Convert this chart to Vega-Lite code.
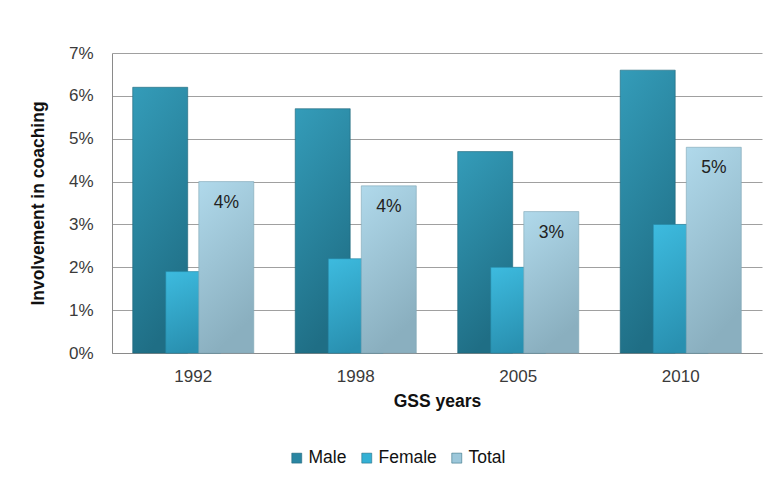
{
  "$schema": "https://vega.github.io/schema/vega-lite/v6.json",
  "width": 650,
  "height": 300,
  "autosize": "none",
  "padding": {"left": 112, "top": 53, "right": 9, "bottom": 146},
  "background": "white",
  "config": {
    "font": "Liberation Sans",
    "view": {"stroke": null},
    "axis": {"gridColor": "#a0a0a0", "domainColor": "#8a8a8a", "labelColor": "#3a3a3a", "titleColor": "#111111"}
  },
  "data": {
    "values": [
      {"year": "1992", "series": "Male", "value": 0.062},
      {"year": "1992", "series": "Female", "value": 0.019},
      {"year": "1992", "series": "Total", "value": 0.040},
      {"year": "1998", "series": "Male", "value": 0.057},
      {"year": "1998", "series": "Female", "value": 0.022},
      {"year": "1998", "series": "Total", "value": 0.039},
      {"year": "2005", "series": "Male", "value": 0.047},
      {"year": "2005", "series": "Female", "value": 0.020},
      {"year": "2005", "series": "Total", "value": 0.033},
      {"year": "2010", "series": "Male", "value": 0.066},
      {"year": "2010", "series": "Female", "value": 0.030},
      {"year": "2010", "series": "Total", "value": 0.048}
    ]
  },
  "encoding": {
    "x": {
      "field": "year", "type": "nominal",
      "scale": {"paddingInner": 0.39, "paddingOuter": 0.195},
      "axis": {"title": "GSS years", "labelAngle": 0, "labelFontSize": 17, "labelPadding": 15, "ticks": false, "grid": false,
               "titleFontSize": 17.5, "titleFontWeight": "bold", "titlePadding": 8}
    },
    "xOffset": {"field": "series", "type": "nominal", "scale": {"domain": ["Male", "Female", "Total"], "paddingInner": 0, "paddingOuter": 0}},
    "y": {
      "field": "value", "type": "quantitative",
      "scale": {"domain": [0, 0.07]},
      "axis": {"title": "Involvement in coaching", "format": ".0%", "values": [0,0.01,0.02,0.03,0.04,0.05,0.06,0.07],
               "labelFontSize": 17, "labelPadding": 19, "ticks": false, "domain": true, "grid": true,
               "titleFontSize": 17.5, "titleFontWeight": "bold", "titlePadding": 21}
    },
    "color": {
      "field": "series", "type": "nominal",
      "scale": {"domain": ["Male", "Female", "Total"], "range": ["#2a86a2", "#34b0d4", "#9cc7da"]},
      "legend": {"title": null, "orient": "none", "legendX": 176, "legendY": 396, "direction": "horizontal", "symbolType": "square", "symbolSize": 100,
                 "labelFontSize": 17.5, "labelColor": "#111111", "columnPadding": 11, "labelOffset": 3, "symbolStrokeColor": "#1d5f73", "symbolStrokeWidth": 0.5}
    }
  },
  "layer": [
    {
      "transform": [{"filter": "datum.series === 'Male'"}],
      "mark": {"type": "bar", "width": 55, "strokeWidth": 0.6, "stroke": "#1c6479",
               "fill": {"gradient": "linear", "x1": 0, "y1": 0, "x2": 0.3, "y2": 1,
                        "stops": [{"offset": 0, "color": "#349cb9"}, {"offset": 1, "color": "#1f6e85"}]}}
    },
    {
      "transform": [{"filter": "datum.series === 'Female'"}],
      "mark": {"type": "bar", "width": 55, "strokeWidth": 0.6, "stroke": "#2585a3",
               "fill": {"gradient": "linear", "x1": 0, "y1": 0, "x2": 0.3, "y2": 1,
                        "stops": [{"offset": 0, "color": "#3dbbdf"}, {"offset": 1, "color": "#2990b0"}]}}
    },
    {
      "transform": [{"filter": "datum.series === 'Total'"}],
      "mark": {"type": "bar", "width": 55, "strokeWidth": 0.6, "stroke": "#7fa6b6",
               "fill": {"gradient": "linear", "x1": 0, "y1": 0, "x2": 0.3, "y2": 1,
                        "stops": [{"offset": 0, "color": "#b0d9eb"}, {"offset": 1, "color": "#8aafbf"}]}}
    },
    {
      "transform": [{"filter": "datum.series === 'Total'"}],
      "mark": {"type": "text", "dy": 21, "fontSize": 17.5, "color": "#222222", "baseline": "middle"},
      "encoding": {
        "text": {"field": "value", "type": "quantitative", "format": ".0%"},
        "color": {"value": "#222222"}
      }
    }
  ]
}
